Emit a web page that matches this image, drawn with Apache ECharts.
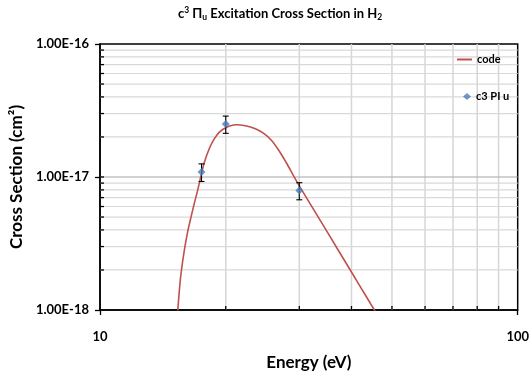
<!DOCTYPE html>
<html>
<head>
<meta charset="utf-8">
<script src="https://cdn.jsdelivr.net/npm/echarts@6/dist/echarts.min.js"></script>
<style>
  html, body { margin: 0; padding: 0; background: #fff; }
  #chart { width: 532px; height: 381px; }
</style>
</head>
<body>
<div id="chart"></div>
<script>
// Computed cross section ("code"), energy in eV and cross section in cm²
const energyCode = [15.35, 15.50, 15.64, 15.93, 16.22, 16.53, 16.83, 17.14, 17.46, 17.78, 18.28, 18.79, 19.31, 20.04, 21.10, 22.29, 23.55, 24.61, 25.72, 26.88, 27.93, 29.03, 30.0, 33.50, 37.41, 41.77, 45.61];
const sigmaCode = [0.99e-18, 1.449e-18, 1.913e-18, 2.851e-18, 3.898e-18, 5.057e-18, 6.390e-18, 8.009e-18, 1.030e-17, 1.291e-17, 1.645e-17, 1.941e-17, 2.172e-17, 2.357e-17, 2.474e-17, 2.431e-17, 2.307e-17, 2.135e-17, 1.891e-17, 1.562e-17, 1.280e-17, 1.030e-17, 8.585e-18, 4.842e-18, 2.731e-18, 1.540e-18, 0.974e-18];

// Measured points ("c3 PI u") with their uncertainties
const energyExp = [17.5, 20, 30];
const sigmaExp = [1.09e-17, 2.5e-17, 7.9e-18];
const errExp = [0.165e-17, 0.37e-17, 0.116e-17];

// Axis ticks
const xTickLabels = { 10: '10', 100: '100' };
const yTickLabels = { '-18': '1.00E-18', '-17': '1.00E-17', '-16': '1.00E-16' };
const xMinor = [20, 30, 40, 50, 60, 70, 80, 90];
const yMinor = [2e-18, 3e-18, 4e-18, 5e-18, 6e-18, 7e-18, 8e-18, 9e-18,
                2e-17, 3e-17, 4e-17, 5e-17, 6e-17, 7e-17, 8e-17, 9e-17];
const yMajorInner = [1e-17];

const X_MIN = 10, X_MAX = 100, Y_MIN = 1e-18, Y_MAX = 1e-16;
const FONT = 'Lato, "Open Sans", sans-serif';

const chart = echarts.init(document.getElementById('chart'));

// Vertical minor grid line plus a short inward tick on the bottom axis
function vGridItem(params, api) {
  const cs = params.coordSys;
  const x = api.coord([api.value(0), api.value(1)])[0];
  const yb = cs.y + cs.height;
  return {
    type: 'group',
    children: [
      { type: 'line', shape: { x1: x, y1: cs.y, x2: x, y2: yb }, style: { stroke: '#d6d6d6', lineWidth: 1.5 } },
      { type: 'line', shape: { x1: x, y1: yb, x2: x, y2: yb - 4 }, style: { stroke: '#000', lineWidth: 1.3 } }
    ]
  };
}

// Horizontal grid line plus a short inward tick on the left axis
function hGridItem(color) {
  return function (params, api) {
    const cs = params.coordSys;
    const y = api.coord([api.value(0), api.value(1)])[1];
    return {
      type: 'group',
      children: [
        { type: 'line', shape: { x1: cs.x, y1: y, x2: cs.x + cs.width, y2: y }, style: { stroke: color, lineWidth: 1.2 } },
        { type: 'line', shape: { x1: cs.x, y1: y, x2: cs.x + 4, y2: y }, style: { stroke: '#000', lineWidth: 1.3 } }
      ]
    };
  };
}

// Vertical error bar with caps
function errorBarItem(params, api) {
  const e = api.value(0);
  const pLo = api.coord([e, api.value(1)]);
  const pHi = api.coord([e, api.value(2)]);
  const w = 3;
  const st = { stroke: '#000', lineWidth: 1.1 };
  return {
    type: 'group',
    children: [
      { type: 'line', shape: { x1: pLo[0], y1: pLo[1], x2: pHi[0], y2: pHi[1] }, style: st },
      { type: 'line', shape: { x1: pLo[0] - w, y1: pLo[1], x2: pLo[0] + w, y2: pLo[1] }, style: st },
      { type: 'line', shape: { x1: pHi[0] - w, y1: pHi[1], x2: pHi[0] + w, y2: pHi[1] }, style: st }
    ]
  };
}

const option = {
  animation: false,
  backgroundColor: '#fff',
  title: {
    text: '{b|c}{sup|3}{b| Π}{sub|u}{b| Excitation Cross Section in H}{sub|2}',
    left: 173,
    top: 0,
    textStyle: {
      rich: {
        b: { fontFamily: FONT, fontWeight: 'bold', fontSize: 13, color: '#000', lineHeight: 18, verticalAlign: 'middle' },
        sup: { fontFamily: FONT, fontWeight: 'bold', fontSize: 8.5, color: '#000', lineHeight: 18, verticalAlign: 'top', padding: [1, 0, 0, 0] },
        sub: { fontFamily: FONT, fontWeight: 'bold', fontSize: 8.5, color: '#000', lineHeight: 18, verticalAlign: 'bottom', padding: [0, 0, 1, 0] }
      }
    }
  },
  legend: [
    {
      data: [{ name: 'code', icon: 'rect' }],
      left: 452,
      top: 49,
      itemWidth: 15,
      itemHeight: 2,
      textStyle: { fontFamily: FONT, fontWeight: 'bold', fontSize: 11, color: '#000' }
    },
    {
      data: [{ name: 'c3 PI u', icon: 'diamond' }],
      left: 458,
      top: 86,
      itemWidth: 8,
      itemHeight: 7,
      textStyle: { fontFamily: FONT, fontWeight: 'bold', fontSize: 11, color: '#000' }
    }
  ],
  grid: {
    left: 100,
    right: 14,
    top: 44,
    bottom: 71,
    show: true,
    borderColor: '#000',
    borderWidth: 1.5,
    backgroundColor: 'transparent',
    containLabel: false
  },
  xAxis: {
    type: 'log',
    logBase: 10,
    min: X_MIN,
    max: X_MAX,
    name: 'Energy (eV)',
    nameLocation: 'middle',
    nameGap: 44,
    nameTextStyle: { fontFamily: FONT, fontWeight: 'bold', fontSize: 17, color: '#000' },
    axisLine: { show: true, lineStyle: { color: '#000', width: 1.5 } },
    axisTick: { show: true, inside: false, length: 5, lineStyle: { color: '#000', width: 1.3 } },
    axisLabel: {
      margin: 20,
      fontFamily: FONT, fontWeight: 'bold', fontSize: 13, color: '#000',
      formatter: v => xTickLabels[Math.round(v)] || ''
    },
    splitLine: { show: false },
    minorTick: { show: false },
    minorSplitLine: { show: false }
  },
  yAxis: {
    type: 'log',
    logBase: 10,
    min: Y_MIN,
    max: Y_MAX,
    name: 'Cross Section (cm²)',
    nameLocation: 'middle',
    nameGap: 72,
    nameRotate: 90,
    nameTextStyle: { fontFamily: FONT, fontWeight: 'bold', fontSize: 17, color: '#000' },
    axisLine: { show: true, lineStyle: { color: '#000', width: 1.5 } },
    axisTick: { show: true, inside: false, length: 5, lineStyle: { color: '#000', width: 1.3 } },
    axisLabel: {
      margin: 11,
      fontFamily: FONT, fontWeight: 'bold', fontSize: 13, color: '#000',
      formatter: v => yTickLabels[String(Math.round(Math.log10(v)))] || ''
    },
    splitLine: { show: false },
    minorTick: { show: false },
    minorSplitLine: { show: false }
  },
  series: [
    {
      name: 'xgrid',
      type: 'custom',
      silent: true,
      z: 1,
      renderItem: vGridItem,
      encode: { x: 0, y: 1 },
      data: xMinor.map(v => [v, Y_MIN])
    },
    {
      name: 'ygrid',
      type: 'custom',
      silent: true,
      z: 1,
      renderItem: hGridItem('#d9d9d9'),
      encode: { x: 0, y: 1 },
      data: yMinor.map(v => [X_MIN, v])
    },
    {
      name: 'ymajor',
      type: 'custom',
      silent: true,
      z: 1,
      renderItem: hGridItem('#a6a6a6'),
      encode: { x: 0, y: 1 },
      data: yMajorInner.map(v => [X_MIN, v])
    },
    {
      name: 'code',
      type: 'line',
      z: 3,
      smooth: 0.3,
      showSymbol: false,
      symbol: 'none',
      clip: true,
      color: '#c0504d',
      lineStyle: { color: '#c0504d', width: 1.6 },
      data: energyCode.map((e, i) => [e, sigmaCode[i]])
    },
    {
      name: 'errors',
      type: 'custom',
      z: 4,
      silent: true,
      renderItem: errorBarItem,
      encode: { x: 0, y: [1, 2] },
      data: energyExp.map((e, i) => [e, sigmaExp[i] - errExp[i], sigmaExp[i] + errExp[i]])
    },
    {
      name: 'c3 PI u',
      type: 'scatter',
      z: 5,
      symbol: 'diamond',
      symbolSize: 8,
      color: '#4a7ebb',
      itemStyle: { color: '#4a7ebb' },
      data: energyExp.map((e, i) => [e, sigmaExp[i]])
    }
  ]
};

chart.setOption(option);
</script>
</body>
</html>
